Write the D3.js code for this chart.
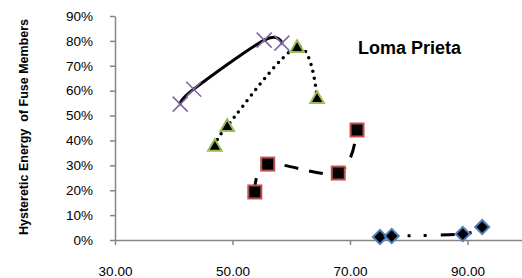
<!DOCTYPE html>
<html>
<head>
<meta charset="utf-8">
<script src="https://cdn.jsdelivr.net/npm/d3@7"></script>
<style>
  html, body { margin: 0; padding: 0; background: #fff; }
  svg { display: block; overflow: hidden; }
  text { font-family: "Liberation Sans", Arial, sans-serif; }
</style>
</head>
<body>
<svg id="chart" width="522" height="278"></svg>
<script>
// ---- data ----
const xTicks = [30, 50, 70, 90];
const yTicks = [0, 0.1, 0.2, 0.3, 0.4, 0.5, 0.6, 0.7, 0.8, 0.9];

const crossX = [41.1, 43.4, 55.4, 58.4];
const crossY = [0.546, 0.606, 0.803, 0.791];

const triX = [47.0, 49.1, 61.0, 64.4];
const triY = [0.378, 0.458, 0.775, 0.570];

const sqX = [53.8, 56.0, 68.0, 71.2];
const sqY = [0.193, 0.305, 0.269, 0.442];

const diaX = [75.1, 77.1, 89.2, 92.5];
const diaY = [0.012, 0.016, 0.024, 0.052];

const chartTitle = "Loma Prieta";
const yTitle = "Hysteretic Energy  of Fuse Members";

// ---- layout ----
const svg = d3.select("#chart");
const x = d3.scaleLinear().domain([30, 110]).range([115, 585]);
const y = d3.scaleLinear().domain([0, 0.9]).range([240, 16]);
const axisColor = "#868686";

// axes
const gx = svg.append("g").attr("transform", "translate(0,240)")
  .call(d3.axisBottom(x).tickValues(xTicks).tickSize(5).tickSizeOuter(0)
    .tickPadding(21).tickFormat(d3.format(".2f")));
const gy = svg.append("g").attr("transform", "translate(115,0)")
  .call(d3.axisLeft(y).tickValues(yTicks).tickSize(5).tickSizeOuter(0)
    .tickPadding(17).tickFormat(d3.format(".0%")));
[gx, gy].forEach(g => {
  g.select(".domain").attr("stroke", axisColor).attr("stroke-width", 1.5);
  g.selectAll(".tick line").attr("stroke", axisColor).attr("stroke-width", 1.5);
  g.selectAll(".tick text").attr("fill", "#000")
    .style("font-family", "'Liberation Sans', Arial, sans-serif")
    .style("font-size", "13.5px");
});

// series
const series = [
  { xs: crossX, ys: crossY, dash: null, cap: "round", marker: "x", color: "#8064A2" },
  { xs: triX, ys: triY, dash: "0,7", cap: "round", marker: "tri", color: "#9BBB59" },
  { xs: sqX, ys: sqY, dash: "14,11", cap: "butt", marker: "sq", color: "#C0504D" },
  { xs: diaX, ys: diaY, dash: "14,14,3,13,3,14", cap: "butt", marker: "dia", color: "#4F81BD" }
];

const line = d3.line().x(d => x(d[0])).y(d => y(d[1])).curve(d3.curveCatmullRom.alpha(0));

series.forEach(s => {
  const pts = s.xs.map((v, i) => [v, s.ys[i]]);
  const p = svg.append("path").datum(pts)
    .attr("d", line)
    .attr("fill", "none")
    .attr("stroke", "#000")
    .attr("stroke-width", s.marker === "tri" ? 3.5 : 3)
    .attr("stroke-linecap", s.cap);
  if (s.dash) p.attr("stroke-dasharray", s.dash);
});

series.forEach(s => {
  const pts = s.xs.map((v, i) => [v, s.ys[i]]);
  const g = svg.append("g");
  pts.forEach(d => {
    const cx = x(d[0]), cy = y(d[1]);
    if (s.marker === "x") {
      const r = 7.5;
      g.append("path")
        .attr("d", `M${cx - r},${cy - r}L${cx + r},${cy + r}M${cx - r},${cy + r}L${cx + r},${cy - r}`)
        .attr("stroke", s.color).attr("stroke-width", 1.5).attr("fill", "none");
    } else if (s.marker === "tri") {
      g.append("path")
        .attr("d", d3.symbol().type(d3.symbolTriangle).size(80)())
        .attr("transform", `translate(${cx},${cy + 1})`)
        .attr("fill", "#000").attr("stroke", s.color).attr("stroke-width", 2);
    } else if (s.marker === "sq") {
      g.append("rect")
        .attr("x", cx - 6.5).attr("y", cy - 6.5).attr("width", 13).attr("height", 13)
        .attr("fill", "#000").attr("stroke", s.color).attr("stroke-width", 2);
    } else if (s.marker === "dia") {
      g.append("rect")
        .attr("x", -5).attr("y", -5).attr("width", 10).attr("height", 10)
        .attr("transform", `translate(${cx},${cy}) rotate(45)`)
        .attr("fill", "#000").attr("stroke", s.color).attr("stroke-width", 2);
    }
  });
});

// titles
svg.append("text")
  .attr("x", 358).attr("y", 54)
  .style("font-size", "18px").style("font-weight", "bold")
  .text(chartTitle);

svg.append("text")
  .attr("transform", "translate(28,127) rotate(-90)")
  .attr("text-anchor", "middle")
  .style("font-size", "12.5px").style("font-weight", "bold")
  .style("white-space", "pre")
  .text(yTitle);
</script>
</body>
</html>
